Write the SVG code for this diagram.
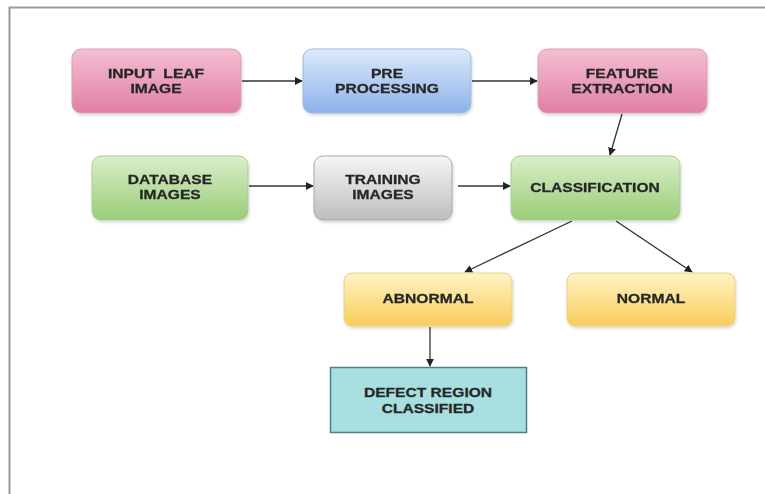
<svg xmlns="http://www.w3.org/2000/svg" width="765" height="494" viewBox="0 0 765 494">
<style>
.t{font-family:"Liberation Sans",Arial,sans-serif;font-weight:bold;font-size:12px;fill:#262626;stroke:#262626;stroke-width:0.25;text-anchor:middle;white-space:pre}
.c{stroke:#333;stroke-width:1.3;fill:none;marker-end:url(#ah)}
.b{stroke-width:1}
</style>
<defs>
<marker id="ah" viewBox="0 0 10 10" refX="9" refY="5" markerWidth="8" markerHeight="8" orient="auto" markerUnits="userSpaceOnUse">
<path d="M0,0 L10,5 L0,10 z" fill="#222"/>
</marker>
<linearGradient id="gp" x1="0" y1="0" x2="0" y2="1"><stop offset="0" stop-color="#f3bfd3"/><stop offset="1" stop-color="#e27ea4"/></linearGradient>
<linearGradient id="gb" x1="0" y1="0" x2="0" y2="1"><stop offset="0" stop-color="#dde9fb"/><stop offset="1" stop-color="#8cb2ea"/></linearGradient>
<linearGradient id="gg" x1="0" y1="0" x2="0" y2="1"><stop offset="0" stop-color="#d9eeca"/><stop offset="1" stop-color="#9acd78"/></linearGradient>
<linearGradient id="gy" x1="0" y1="0" x2="0" y2="1"><stop offset="0" stop-color="#fff3c4"/><stop offset="1" stop-color="#f8cd5c"/></linearGradient>
<linearGradient id="gr" x1="0" y1="0" x2="0" y2="1"><stop offset="0" stop-color="#f6f6f6"/><stop offset="1" stop-color="#bdbdbd"/></linearGradient>
<filter id="sh" x="-10%" y="-10%" width="120%" height="130%"><feDropShadow dx="1" dy="2" stdDeviation="1.5" flood-color="#000" flood-opacity="0.15"/></filter>
</defs>
<rect x="0" y="0" width="765" height="494" fill="#fff"/>
<path d="M9.5,494 V7.5 H765" fill="none" stroke="#9a9a9a" stroke-width="2"/>

<g id="connectors">
<line class="c" x1="242" y1="81" x2="302" y2="81"/>
<line class="c" x1="472" y1="81" x2="537" y2="81"/>
<line class="c" x1="622" y1="114" x2="610" y2="155"/>
<line class="c" x1="249" y1="186" x2="313" y2="186"/>
<line class="c" x1="458" y1="186" x2="510" y2="186"/>
<line class="c" x1="572" y1="221" x2="465" y2="272"/>
<line class="c" x1="616" y1="221" x2="692" y2="272"/>
<line class="c" x1="430" y1="327" x2="430" y2="366"/>
</g>

<g id="input-leaf-image" filter="url(#sh)">
<rect x="72" y="49" width="169" height="64" rx="9" fill="url(#gp)" stroke="#d7a0b6" class="b"/>
<text class="t" xml:space="preserve" transform="translate(156,78) scale(1.3,1)">INPUT  LEAF</text>
<text class="t" transform="translate(156,93) scale(1.3,1)">IMAGE</text>
</g>
<g id="pre-processing" filter="url(#sh)">
<rect x="303" y="49" width="168" height="64" rx="9" fill="url(#gb)" stroke="#9fb8dc" class="b"/>
<text class="t" transform="translate(387,78) scale(1.3,1)">PRE</text>
<text class="t" transform="translate(387,93) scale(1.3,1)">PROCESSING</text>
</g>
<g id="feature-extraction" filter="url(#sh)">
<rect x="538" y="49" width="169" height="64" rx="9" fill="url(#gp)" stroke="#d7a0b6" class="b"/>
<text class="t" transform="translate(622,78) scale(1.3,1)">FEATURE</text>
<text class="t" transform="translate(622,93) scale(1.3,1)">EXTRACTION</text>
</g>
<g id="database-images" filter="url(#sh)">
<rect x="92" y="156" width="156" height="64" rx="9" fill="url(#gg)" stroke="#a9cf92" class="b"/>
<text class="t" transform="translate(170,184) scale(1.3,1)">DATABASE</text>
<text class="t" transform="translate(170,199) scale(1.3,1)">IMAGES</text>
</g>
<g id="training-images" filter="url(#sh)">
<rect x="314" y="156" width="138" height="64" rx="9" fill="url(#gr)" stroke="#a8a8a8" class="b"/>
<text class="t" transform="translate(383,184) scale(1.3,1)">TRAINING</text>
<text class="t" transform="translate(383,199) scale(1.3,1)">IMAGES</text>
</g>
<g id="classification" filter="url(#sh)">
<rect x="511" y="156" width="169" height="64" rx="9" fill="url(#gg)" stroke="#a9cf92" class="b"/>
<text class="t" transform="translate(595,192) scale(1.3,1)">CLASSIFICATION</text>
</g>
<g id="abnormal" filter="url(#sh)">
<rect x="344" y="273" width="168" height="53" rx="8" fill="url(#gy)" stroke="#e8d08a" class="b"/>
<text class="t" transform="translate(428,303) scale(1.3,1)">ABNORMAL</text>
</g>
<g id="normal" filter="url(#sh)">
<rect x="567" y="273" width="168" height="53" rx="8" fill="url(#gy)" stroke="#e8d08a" class="b"/>
<text class="t" transform="translate(651,303) scale(1.3,1)">NORMAL</text>
</g>
<g id="defect-region-classified">
<rect x="330.5" y="367.5" width="196" height="65" fill="#a8e0e1" stroke="#4d7f86" stroke-width="1.5"/>
<text class="t" transform="translate(428,397) scale(1.3,1)">DEFECT REGION</text>
<text class="t" transform="translate(428,413) scale(1.3,1)">CLASSIFIED</text>
</g>
</svg>
